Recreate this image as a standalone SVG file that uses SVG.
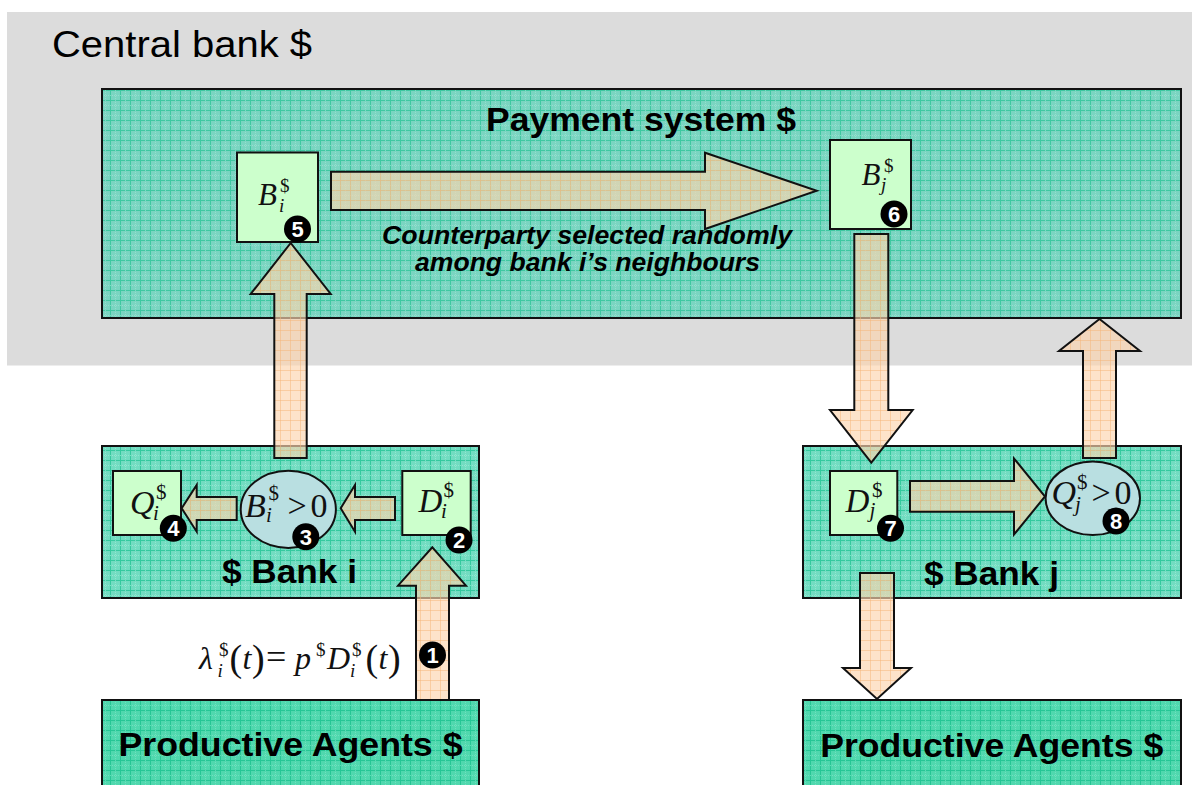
<svg xmlns="http://www.w3.org/2000/svg" width="1192" height="785" viewBox="0 0 1192 785">
<defs>
<pattern id="gPS" width="10" height="10" patternUnits="userSpaceOnUse"><rect width="10" height="10" fill="#7ad5c1"/><path d="M0 0.5H10M0.5 0V10" stroke="#3fc8a1" stroke-width="1"/><path d="M0 5.5H10M5.5 0V10" stroke="#a9e4d6" stroke-width="0.6" stroke-dasharray="1 1"/></pattern>
<pattern id="gBK" width="10" height="10" patternUnits="userSpaceOnUse"><rect width="10" height="10" fill="#72dcc1"/><path d="M0 0.5H10M0.5 0V10" stroke="#34c99e" stroke-width="1"/><path d="M0 5.5H10M5.5 0V10" stroke="#aaecda" stroke-width="0.6" stroke-dasharray="1 1"/></pattern>
<pattern id="gPA" width="10" height="10" patternUnits="userSpaceOnUse"><rect width="10" height="10" fill="#50d8ae"/><path d="M0 0.5H10M0.5 0V10" stroke="#26c695" stroke-width="1"/><path d="M0 5.5H10M5.5 0V10" stroke="#88e6c9" stroke-width="0.6" stroke-dasharray="1 1"/></pattern>
<pattern id="pch" width="10" height="10" patternUnits="userSpaceOnUse"><rect width="10" height="10" fill="#fcd4ae" fill-opacity="0.66"/><path d="M0 0.5H10M0.5 0V10" stroke="#f6b57a" stroke-opacity="0.5" stroke-width="1"/></pattern>
</defs>
<style>
.box{stroke:#111;stroke-width:2}
.sm{fill:#ccffcc;stroke:#111;stroke-width:2}
.ell{fill:#b9dfe1;stroke:#111;stroke-width:2}
.arr{fill:url(#pch);stroke:#111;stroke-width:2;stroke-linejoin:miter}
.bt{font-family:"Liberation Sans",Arial,sans-serif;font-weight:bold;fill:#000}
.m{font-family:"Liberation Serif","Times New Roman",serif;fill:#111}
.i{font-style:italic}
.bc{fill:#000}
.bn{font-family:"Liberation Sans",Arial,sans-serif;font-weight:bold;font-size:22px;fill:#fff;text-anchor:middle}
</style>
<g id="central-bank">
<rect x="7" y="12" width="1185" height="353.5" fill="#dcdcdc"/>
<text x="52" y="57" font-family="Liberation Sans,Arial,sans-serif" font-size="37" textLength="260" lengthAdjust="spacingAndGlyphs" fill="#000">Central bank $</text>
</g>
<g id="payment-system">
<rect class="box" x="102" y="89" width="1079" height="229" fill="url(#gPS)"/>
<text class="bt" x="641" y="131" font-size="33" text-anchor="middle" textLength="310" lengthAdjust="spacingAndGlyphs">Payment system $</text>
<text class="bt" x="587" y="244" font-size="25" font-style="italic" text-anchor="middle" textLength="410" lengthAdjust="spacingAndGlyphs">Counterparty selected randomly</text>
<text class="bt" x="587.5" y="271" font-size="25" font-style="italic" text-anchor="middle" textLength="345" lengthAdjust="spacingAndGlyphs">among bank i’s neighbours</text>
</g>
<g id="bank-i">
<rect class="box" x="102" y="446" width="377" height="152" fill="url(#gBK)"/>
<text class="bt" x="289.5" y="583" font-size="33" text-anchor="middle" textLength="135" lengthAdjust="spacingAndGlyphs">$ Bank i</text>
</g>
<g id="bank-j">
<rect class="box" x="803" y="446" width="378" height="152" fill="url(#gBK)"/>
<text class="bt" x="991.5" y="585" font-size="33" text-anchor="middle" textLength="135" lengthAdjust="spacingAndGlyphs">$ Bank j</text>
</g>
<g id="agents-i">
<rect class="box" x="102" y="700" width="377" height="95" fill="url(#gPA)"/>
<text class="bt" x="290.5" y="756" font-size="34" text-anchor="middle" textLength="344" lengthAdjust="spacingAndGlyphs">Productive Agents $</text>
</g>
<g id="agents-j">
<rect class="box" x="803" y="700" width="378" height="95" fill="url(#gPA)"/>
<text class="bt" x="991.7" y="757" font-size="34" text-anchor="middle" textLength="343" lengthAdjust="spacingAndGlyphs">Productive Agents $</text>
</g>
<g id="B-i">
<rect class="sm" x="237" y="152.5" width="81" height="89.5"/>
<text class="m"><tspan class="i" x="258" y="205" font-size="31">B</tspan><tspan x="280" y="192" font-size="19">$</tspan><tspan class="i" x="279" y="212" font-size="19">i</tspan></text>
</g>
<g id="B-j">
<rect class="sm" x="830" y="140" width="81" height="89"/>
<text class="m"><tspan class="i" x="861.5" y="184.5" font-size="31">B</tspan><tspan x="884" y="172" font-size="19">$</tspan><tspan class="i" x="881" y="191" font-size="19">j</tspan></text>
</g>
<g id="Q-i">
<rect class="sm" x="113" y="471" width="68" height="64"/>
<text class="m"><tspan class="i" x="130" y="514" font-size="34">Q</tspan><tspan x="156" y="499" font-size="21">$</tspan><tspan class="i" x="153" y="520" font-size="21">i</tspan></text>
</g>
<g id="B-i-positive">
<ellipse class="ell" cx="288.3" cy="509.3" rx="47.6" ry="38.6"/>
<text class="m"><tspan class="i" x="245" y="517" font-size="34">B</tspan><tspan x="268.5" y="500" font-size="21">$</tspan><tspan class="i" x="266" y="522" font-size="21">i</tspan><tspan x="287.5" y="517" font-size="34">&gt;</tspan><tspan x="310.5" y="517" font-size="34">0</tspan></text>
</g>
<g id="D-i">
<rect class="sm" x="402.3" y="471" width="68.4" height="64"/>
<text class="m"><tspan class="i" x="418.5" y="512" font-size="33">D</tspan><tspan x="443.5" y="497" font-size="21">$</tspan><tspan class="i" x="441" y="518" font-size="21">i</tspan></text>
</g>
<g id="D-j">
<rect class="sm" x="830" y="471" width="67.3" height="64"/>
<text class="m"><tspan class="i" x="845.5" y="512" font-size="33">D</tspan><tspan x="872" y="497" font-size="21">$</tspan><tspan class="i" x="869.5" y="517" font-size="21">j</tspan></text>
</g>
<g id="Q-j-positive">
<ellipse class="ell" cx="1092.8" cy="498.3" rx="47.2" ry="36.7"/>
<text class="m"><tspan class="i" x="1051.5" y="504" font-size="34">Q</tspan><tspan x="1077" y="489" font-size="21">$</tspan><tspan class="i" x="1075" y="511" font-size="21">j</tspan><tspan x="1091.5" y="504" font-size="34">&gt;</tspan><tspan x="1114.5" y="504" font-size="34">0</tspan></text>
</g>
<g id="connectors">
<path class="arr" d="M331,171.7 L705,171.7 L705,152.7 L816.7,190.7 L705,229 L705,210 L331,210 Z"/>
<path class="arr" d="M274.3,458 L274.3,294 L250.7,294 L290.7,243 L330.7,294 L306.7,294 L306.7,458 Z"/>
<path class="arr" d="M854.3,234 L888.3,234 L888.3,410 L912.7,410 L871.3,462.7 L830,410 L854.3,410 Z"/>
<path class="arr" d="M1083,458 L1083,351 L1059,351 L1099.5,319 L1140,351 L1116,351 L1116,458 Z"/>
<path class="arr" d="M860,573 L894,573 L894,668 L911,668 L877,699 L843,668 L860,668 Z"/>
<path class="arr" d="M416,700 L416,585.7 L398,585.7 L432.3,547.3 L466,585.7 L449,585.7 L449,700 Z"/>
<path class="arr" d="M395,497 L355,497 L355,485 L340.7,508.3 L355,531.7 L355,520 L395,520 Z"/>
<path class="arr" d="M236.7,497 L196.7,497 L196.7,485 L181.7,508.3 L196.7,531.7 L196.7,520 L236.7,520 Z"/>
<path class="arr" d="M910,481 L1014,481 L1014,458.5 L1045,496.5 L1014,534.5 L1014,511.7 L910,511.7 Z"/>
</g>
<g id="formula">
<text class="m"><tspan class="i" x="199" y="668.5" font-size="32">λ</tspan><tspan x="219" y="656" font-size="19">$</tspan><tspan class="i" x="217.5" y="677" font-size="19">i</tspan><tspan x="229.5" y="671" font-size="38">(</tspan><tspan class="i" x="242.5" y="668.5" font-size="32">t</tspan><tspan x="252" y="671" font-size="38">)</tspan><tspan x="266" y="668.5" font-size="36">=</tspan><tspan class="i" x="295" y="668.5" font-size="32">p</tspan><tspan x="316" y="656" font-size="19">$</tspan><tspan class="i" x="327" y="668.5" font-size="32">D</tspan><tspan x="352" y="656" font-size="19">$</tspan><tspan class="i" x="350" y="677" font-size="19">i</tspan><tspan x="365.5" y="671" font-size="38">(</tspan><tspan class="i" x="378.5" y="668.5" font-size="32">t</tspan><tspan x="388" y="671" font-size="38">)</tspan></text>
</g>
<g id="steps">
<circle class="bc" cx="432.5" cy="655" r="13.5"/><text class="bn" x="432.5" y="663">1</text>
<circle class="bc" cx="459" cy="540" r="13.5"/><text class="bn" x="459" y="548">2</text>
<circle class="bc" cx="305.8" cy="536.7" r="13.5"/><text class="bn" x="305.8" y="544.7">3</text>
<circle class="bc" cx="173.3" cy="528.3" r="13.5"/><text class="bn" x="173.3" y="536.3">4</text>
<circle class="bc" cx="297.5" cy="229" r="13.5"/><text class="bn" x="297.5" y="237">5</text>
<circle class="bc" cx="894" cy="214" r="13.5"/><text class="bn" x="894" y="222">6</text>
<circle class="bc" cx="890.5" cy="528.3" r="13.5"/><text class="bn" x="890.5" y="536.3">7</text>
<circle class="bc" cx="1116" cy="521" r="13.5"/><text class="bn" x="1116" y="529">8</text>
</g>
</svg>
